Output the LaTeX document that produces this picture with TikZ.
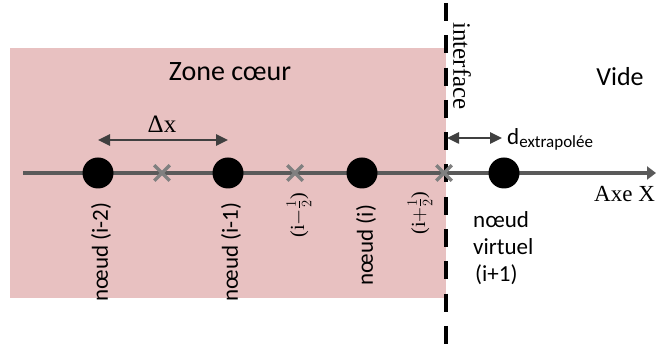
\documentclass[tikz,border=0pt]{standalone}
\usepackage{fontspec}
\setmainfont{Liberation Serif}
\newfontfamily\calibri{Carlito}
\usetikzlibrary{arrows.meta}
\usetikzlibrary{shapes.misc}
\definecolor{zonerose}{RGB}{232,193,193}
\definecolor{axegris}{RGB}{90,90,90}
\definecolor{flechegris}{RGB}{64,64,64}
\definecolor{croixgris}{RGB}{128,128,128}

\begin{document}
\begin{tikzpicture}[x=1pt,y=-1pt]

\tikzstyle{every node}=[inner sep=0pt]
\tikzstyle{noeud}=[circle, fill=black, minimum size=31pt]
\tikzstyle{demi}=[cross out, draw=croixgris, line width=3.5pt, minimum size=12pt]
\tikzstyle{etiq}=[rotate=90, font=\calibri\fontsize{23}{25}\selectfont]
\tikzstyle{fracetiq}=[rotate=90, font=\fontsize{20}{22}\selectfont]
\tikzstyle{cote}=[{Triangle[length=12pt,width=11pt]}-{Triangle[length=12pt,width=11pt]}, line width=2.5pt, flechegris]

\useasboundingbox (0,0) rectangle (656,344);

% zone coeur
\fill[zonerose] (10,48) rectangle (446,298);
\node[font=\calibri\fontsize{28}{30}\selectfont] (zone) at (230,72) {Zone cœur};
\node[font=\calibri\fontsize{26}{28}\selectfont] (vide) at (620,77) {Vide};

% interface
\coordinate (if0) at (446,3);
\coordinate (if1) at (446,344);
\draw[line width=4.5pt, dash pattern=on 18pt off 14.3pt] (if0) -- (if1);
\node[rotate=-90, font=\fontsize{25}{27}\selectfont] (itf) at (462,66) {interface};

% axe
\coordinate (ax0) at (23,173);
\coordinate (ax1) at (656,173);
\draw[-{Triangle[length=9pt,width=13pt]}, line width=4pt, axegris] (ax0) -- (ax1);
\node[anchor=base west, font=\fontsize{23}{25}\selectfont] (axe) at (594,202) {Axe X};

% demi-noeuds
\node[demi] (m1) at (162,173) {};
\node[demi] (m2) at (295,173) {};
\node[demi] (m3) at (444,173) {};

% noeuds
\node[noeud] (n1) at (98,173) {};
\node[noeud] (n2) at (228,173) {};
\node[noeud] (n3) at (362,173) {};
\node[noeud] (nv) at (504,173) {};

% cotes
\draw[cote] ([yshift=33pt]n1.center) -- ([yshift=33pt]n2.center);
\node[anchor=base, font=\fontsize{25}{27}\selectfont] (dx) at (162,133) {Δx};
\coordinate (dg) at (447,138);
\draw[cote] (dg) -- ([xshift=-2pt,yshift=35pt]nv.center);
\node[anchor=base west, font=\calibri\fontsize{23}{25}\selectfont] (dext) at (507,145) {d\raisebox{-3pt}{\fontsize{17}{19}\selectfont extrapolée}};

% etiquettes
\node[etiq] (l1) at (101,252) {nœud (i-2)};
\node[etiq] (l2) at (231,252) {nœud (i-1)};
\node[etiq] (l3) at (366,245) {nœud (i)};
\node[fracetiq] (f1) at (299,215) {(i$-\frac{1}{2}$)};
\node[fracetiq] (f2) at (420,213) {(i$+\frac{1}{2}$)};
\node[align=left, anchor=north west, font=\calibri\fontsize{23}{27}\selectfont] (nvl) at (473,211) {nœud\\virtuel\\\hspace{2pt}(i+1)};

\end{tikzpicture}
\end{document}
